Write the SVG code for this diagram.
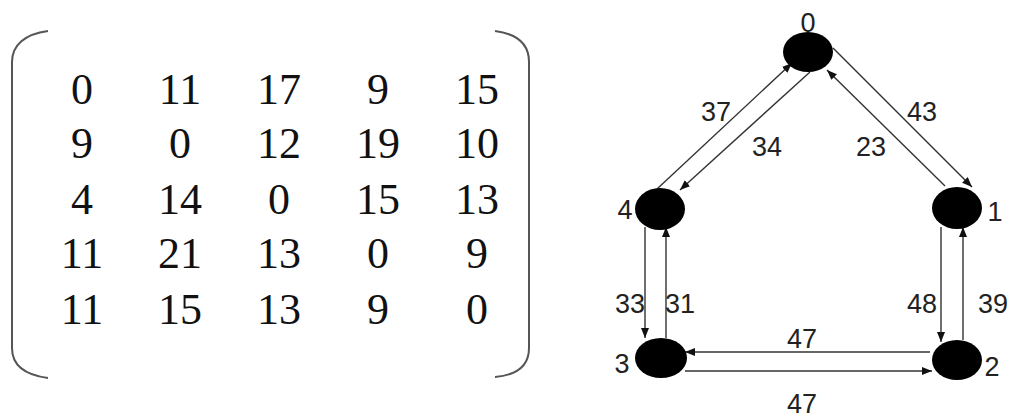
<svg xmlns="http://www.w3.org/2000/svg" width="1010" height="419" viewBox="0 0 1010 419">
<defs>
<style>
.m{font-family:"Liberation Serif","Times New Roman",serif;font-size:44px;fill:#111;text-anchor:middle}
.l{font-family:"Liberation Sans",Arial,sans-serif;font-size:27px;fill:#222;text-anchor:middle}
.br{fill:none;stroke:#555;stroke-width:2}
.e{stroke:#333;stroke-width:1.4;fill:none;marker-end:url(#ah)}
.n{fill:#000}
</style>
<marker id="ah" markerUnits="userSpaceOnUse" markerWidth="11" markerHeight="9" refX="10" refY="4" orient="auto">
<path d="M0,0 L10,4 L0,8 z" fill="#111"/>
</marker>
</defs>
<rect width="1010" height="419" fill="#fff"/>
<g id="matrix">
<path class="br" d="M48,31 C25,34 12,45 12,62 L12,348 C12,365 25,375 48,378"/>
<path class="br" d="M495,31 C518,34 529,45 529,62 L529,348 C529,365 518,375 495,377"/>
<g class="m">
<text x="82" y="104">0</text><text x="180" y="104">11</text><text x="279" y="104">17</text><text x="378" y="104">9</text><text x="477" y="104">15</text>
<text x="82" y="158">9</text><text x="180" y="158">0</text><text x="279" y="158">12</text><text x="378" y="158">19</text><text x="477" y="158">10</text>
<text x="82" y="214">4</text><text x="180" y="214">14</text><text x="279" y="214">0</text><text x="378" y="214">15</text><text x="477" y="214">13</text>
<text x="82" y="268">11</text><text x="180" y="268">21</text><text x="279" y="268">13</text><text x="378" y="268">0</text><text x="477" y="268">9</text>
<text x="82" y="324">11</text><text x="180" y="324">15</text><text x="279" y="324">13</text><text x="378" y="324">9</text><text x="477" y="324">0</text>
</g>
</g>
<g id="edges">
<line class="e" x1="833" y1="48" x2="972" y2="187"/>
<line class="e" x1="945" y1="186" x2="827" y2="70"/>
<line class="e" x1="657" y1="189" x2="792" y2="63"/>
<line class="e" x1="810" y1="72" x2="680" y2="190"/>
<line class="e" x1="645" y1="227" x2="645" y2="338"/>
<line class="e" x1="666" y1="338" x2="666" y2="227"/>
<line class="e" x1="941" y1="227" x2="941" y2="342"/>
<line class="e" x1="963" y1="340" x2="963" y2="227"/>
<line class="e" x1="930" y1="352" x2="685" y2="352"/>
<line class="e" x1="685" y1="371" x2="932" y2="371"/>
<g class="l">
<text x="716" y="121">37</text>
<text x="767" y="156">34</text>
<text x="922" y="121">43</text>
<text x="871" y="156">23</text>
<text x="630" y="313">33</text>
<text x="680" y="313">31</text>
<text x="922" y="313">48</text>
<text x="993" y="313">39</text>
<text x="802" y="348">47</text>
<text x="802" y="413">47</text>
</g>
</g>
<g id="node0"><ellipse class="n" cx="808" cy="52" rx="25" ry="20"/><text class="l" x="808" y="32">0</text></g>
<g id="node1"><ellipse class="n" cx="957" cy="208" rx="25" ry="21"/><text class="l" x="995" y="221">1</text></g>
<g id="node2"><ellipse class="n" cx="957" cy="360" rx="25" ry="20"/><text class="l" x="992" y="376">2</text></g>
<g id="node3"><ellipse class="n" cx="661" cy="358" rx="26" ry="20"/><text class="l" x="622" y="373">3</text></g>
<g id="node4"><ellipse class="n" cx="660" cy="209" rx="25" ry="21"/><text class="l" x="625" y="219">4</text></g>
</svg>
